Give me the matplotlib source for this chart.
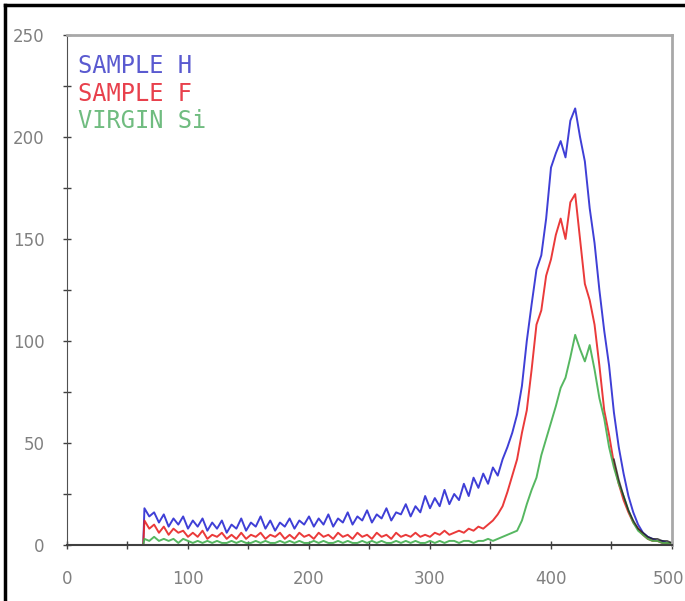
import numpy as np
import matplotlib.pyplot as plt
from matplotlib.lines import Line2D
from matplotlib.ticker import MultipleLocator

# spectrum channels (every 4th channel, from the start of the recorded range)
channels = np.arange(64, 501, 4)

sample_h = [18, 14, 16, 11, 15, 9, 13, 10, 14, 8,
            12, 9, 13, 7, 11, 8, 12, 6, 10, 8,
            13, 7, 11, 9, 14, 8, 12, 7, 11, 9,
            13, 8, 12, 10, 14, 9, 13, 10, 15, 9,
            13, 11, 16, 10, 14, 12, 17, 11, 15, 13,
            18, 12, 16, 15, 20, 14, 19, 16, 24, 18,
            23, 19, 27, 20, 25, 22, 30, 24, 33, 28,
            35, 30, 38, 34, 42, 48, 55, 64, 78, 100,
            118, 135, 142, 160, 185, 192, 198, 190, 208, 214,
            200, 188, 165, 148, 125, 105, 88, 65, 48, 35,
            24, 16, 10, 6, 4, 3, 2, 2, 1, 1]

sample_f = [12, 8, 10, 6, 9, 5, 8, 6, 7, 4,
            6, 4, 7, 3, 5, 4, 6, 3, 5, 3,
            6, 3, 5, 4, 6, 3, 5, 4, 6, 3,
            5, 3, 6, 4, 5, 3, 6, 4, 5, 3,
            6, 4, 5, 3, 6, 4, 5, 3, 6, 4,
            5, 3, 6, 4, 5, 4, 6, 4, 5, 4,
            6, 5, 7, 5, 6, 7, 6, 8, 7, 9,
            8, 10, 12, 15, 19, 26, 34, 42, 55, 66,
            86, 108, 115, 132, 140, 152, 160, 150, 168, 172,
            150, 128, 120, 108, 88, 66, 54, 40, 30, 22,
            16, 11, 8, 5, 3, 2, 2, 1, 1, 1]

virgin_si = [3, 2, 4, 2, 3, 2, 3, 1, 3, 2,
             1, 2, 1, 2, 1, 2, 1, 1, 2, 1,
             2, 1, 1, 2, 1, 2, 1, 1, 2, 1,
             2, 1, 2, 1, 1, 2, 1, 2, 1, 1,
             2, 1, 2, 1, 1, 2, 1, 2, 1, 2,
             1, 1, 2, 1, 2, 1, 2, 1, 1, 2,
             1, 2, 1, 2, 2, 1, 2, 2, 1, 2,
             2, 3, 2, 3, 4, 5, 6, 7, 12, 20,
             27, 33, 44, 52, 60, 68, 77, 82, 92, 103,
             96, 90, 98, 86, 72, 62, 48, 38, 30, 24,
             17, 11, 7, 5, 3, 2, 2, 1, 1, 1]

# overlapping tail where the three curves merge
tail_channels = np.arange(452, 501, 4)
tail = [42, 32, 24, 17, 12, 8, 6, 4, 3, 3, 2, 2, 1]

x_ticks = [0, 100, 200, 300, 400, 500]
labels = ['SAMPLE H', 'SAMPLE F', 'VIRGIN Si']
line_colors = ['#2a2ad2', '#e82424', '#44b050']
text_colors = ['#5a5ad0', '#e8404c', '#70bc80']

fig = plt.figure(figsize=(6.85, 6.01), dpi=100)
ax = fig.add_axes([0.0978, 0.0932, 0.8832, 0.8486])

for vals, col in zip([sample_h, sample_f, virgin_si], line_colors):
    x = np.r_[channels[0] - 1, channels]
    y = np.r_[0, vals]
    ax.plot(x, y, color=col, lw=1.4, alpha=0.9)
ax.plot(tail_channels, tail, color='#202020', lw=1.2, alpha=0.8)

ax.set_xlim(0, 500)
ax.set_ylim(0, 250)
# the last x label sits against the figure edge, so it is placed separately
ax.set_xticks(x_ticks, [str(t) for t in x_ticks[:-1]] + [''])
ax.xaxis.set_minor_locator(MultipleLocator(50))
ax.yaxis.set_major_locator(MultipleLocator(50))
ax.yaxis.set_minor_locator(MultipleLocator(25))
ax.tick_params(which='both', direction='inout', length=6, width=1, color='#404040')
ax.tick_params(axis='y', pad=13, labelsize=12, labelcolor='#808080')
ax.tick_params(axis='x', pad=15, labelsize=12, labelcolor='#808080')
ax.annotate(str(x_ticks[-1]), xy=(x_ticks[-1], 0), xytext=(8.5, -18),
            textcoords='offset points', ha='right', va='top',
            fontsize=12, color='#808080')

ax.spines['left'].set_color('#505050')
ax.spines['bottom'].set_color('#404040')
ax.spines['bottom'].set_linewidth(1.5)
ax.spines['top'].set_color('#a8a8a8')
ax.spines['top'].set_linewidth(2)
ax.spines['right'].set_color('#a8a8a8')
ax.spines['right'].set_linewidth(2)

for i, (lab, col) in enumerate(zip(labels, text_colors)):
    ax.text(0.018, 0.939 - i * 0.054, lab, transform=ax.transAxes,
            fontsize=17, family='DejaVu Sans Mono', color=col, va='center')

# frame lines along the top and left edges of the figure
fig.add_artist(Line2D([0.007, 1.0], [0.992, 0.992], color='black', lw=2.5))
fig.add_artist(Line2D([0.007, 0.007], [0.0, 0.992], color='black', lw=2.5))

fig.savefig('out.png', dpi=100)
